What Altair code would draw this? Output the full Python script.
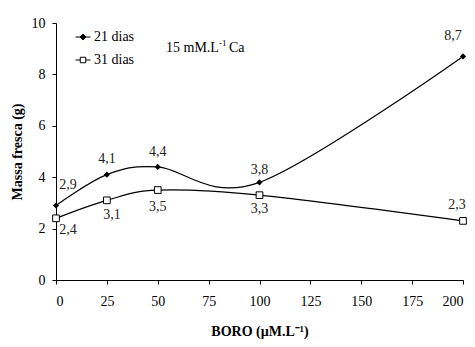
import altair as alt
import pandas as pd

# Boron doses (µM.L-1) and fresh mass (g) for each harvest
boro = [0, 25, 50, 100, 200]
dias_21 = [2.9, 4.1, 4.4, 3.8, 8.7]
dias_31 = [2.4, 3.1, 3.5, 3.3, 2.3]
series = ["21 dias", "31 dias"]

rows = []
for name, vals in zip(series, [dias_21, dias_31]):
    for i, (b, v) in enumerate(zip(boro, vals)):
        rows.append({"boro": b, "massa": v, "serie": name, "idx": i})
df = pd.DataFrame(rows)

FONT = "'Liberation Serif', 'Times New Roman', serif"

x_enc = alt.X("boro:Q", scale=alt.Scale(domain=[0, 200], nice=False),
              axis=alt.Axis(values=list(range(0, 201, 25)), labelPadding=10,
                            title="BORO (µM.L⁻¹)", titlePadding=16))
y_enc = alt.Y("massa:Q", scale=alt.Scale(domain=[0, 10], nice=False),
              axis=alt.Axis(values=list(range(0, 11, 2)), labelPadding=7,
                            title="Massa fresca (g)", titlePadding=7))

base = alt.Chart(df)

lines = base.mark_line(interpolate="cardinal", color="black", strokeWidth=1.2).encode(
    x=x_enc, y=y_enc, detail="serie:N"
)

diamonds = base.transform_filter(alt.datum.serie == series[0]).mark_point(
    shape="diamond", filled=True, color="black", size=38, opacity=1
).encode(x="boro:Q", y="massa:Q")

squares = base.transform_filter(alt.datum.serie == series[1]).mark_point(
    shape="square", filled=False, color="black", fill="white", fillOpacity=1,
    size=45, strokeWidth=1, opacity=1
).encode(x="boro:Q", y="massa:Q")

# Legend symbols: a short line segment crossed by the series marker
legend_paths = [
    "M-1.5,0H1.5M0,-0.6L0.6,0L0,0.6L-0.6,0Z",
    "M-1.5,0H-0.55M0.55,0H1.5M-0.55,-0.55H0.55V0.55H-0.55Z",
]
legend_props = dict(
    title=None, orient="none", legendX=20, legendY=7,
    labelFont=FONT, labelFontSize=14, labelColor="black",
    symbolSize=100, rowPadding=9, labelOffset=4,
    symbolStrokeWidth=1, symbolOpacity=1,
)
# Legend-only layer: no rows pass the filter, the scales carry the entries
legend_layer = base.transform_filter(alt.datum.idx < 0).mark_point(filled=False).encode(
    x="boro:Q", y="massa:Q",
    shape=alt.Shape("serie:N", scale=alt.Scale(domain=series, range=legend_paths),
                    legend=alt.Legend(**legend_props)),
    fill=alt.Fill("serie:N", scale=alt.Scale(domain=series, range=["black", "white"]),
                  legend=alt.Legend(**legend_props)),
    stroke=alt.Stroke("serie:N", scale=alt.Scale(domain=series, range=["black", "black"]),
                      legend=alt.Legend(**legend_props)),
)

# Per-point label offsets (dx, dy) for each series
offsets = {
    "21 dias": [(12, -20), (0, -16), (0, -15), (0, -12), (-10, -20)],
    "31 dias": [(12, 12), (5, 15), (0, 17), (0, 14), (-6, -16)],
}

labels = []
for name in series:
    for i, (dx, dy) in enumerate(offsets[name]):
        t = base.transform_filter(
            (alt.datum.serie == name) & (alt.datum.idx == i)
        ).transform_calculate(
            lab="replace(format(datum.massa, '.1f'), '.', ',')"
        ).mark_text(font=FONT, fontSize=14, color="#222", dx=dx, dy=dy,
                    baseline="middle", align="center").encode(
            x="boro:Q", y="massa:Q", text="lab:N"
        )
        labels.append(t)

# Calcium concentration note, with a raised exponent
note_parts = [("15 mM.L", 14, 110, 25), ("-1", 9, 163, 20), ("Ca", 14, 173, 25)]
notes = []
for txt, fs, px, py in note_parts:
    notes.append(
        alt.Chart(pd.DataFrame({"t": [txt]})).mark_text(
            font=FONT, fontSize=fs, align="left", baseline="middle", color="black"
        ).encode(x=alt.value(px), y=alt.value(py), text="t:N")
    )

chart = alt.layer(lines, diamonds, squares, legend_layer, *labels, *notes).properties(
    width=407, height=257,
    autosize=alt.AutoSizeParams(type="none"),
    padding={"left": 56, "top": 23, "right": 12, "bottom": 67},
).configure_view(stroke=None).configure_axis(
    labelFont=FONT, labelFontSize=14, labelColor="black",
    titleFont=FONT, titleFontSize=14, titleFontWeight="bold", titleColor="black",
    domainColor="black", tickColor="black", tickSize=4, grid=False,
)

chart.save("out.html", embed_options={"renderer": "svg", "actions": False})
